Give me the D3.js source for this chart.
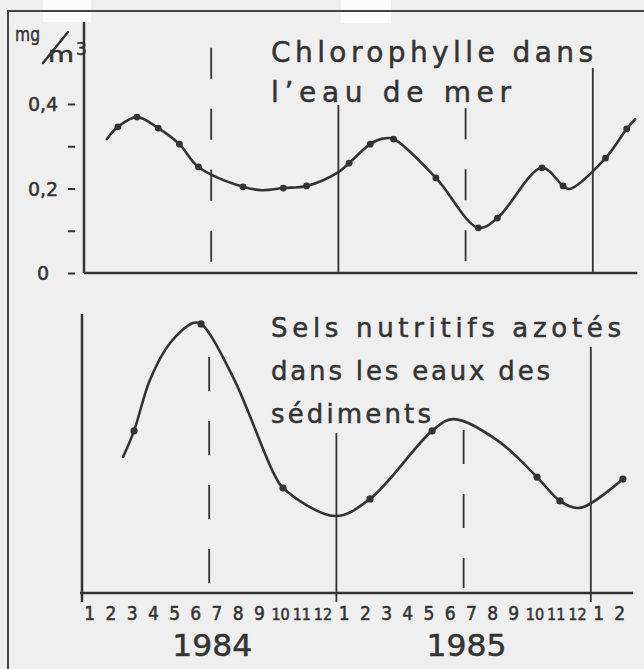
<!DOCTYPE html>
<html>
<head>
<meta charset="utf-8">
<script src="https://cdn.jsdelivr.net/npm/d3@7"></script>
<style>
  html, body { margin: 0; padding: 0; background: #efefef; }
  svg { display: block; }
  text { stroke: #333333; stroke-width: 0.5px; }
</style>
</head>
<body>
<div id="chart"></div>
<script>
"use strict";

// Months counted from January 1984 (0 = start of Jan 1984)
var monthLabels = ["1","2","3","4","5","6","7","8","9","10","11","12",
                   "1","2","3","4","5","6","7","8","9","10","11","12",
                   "1","2"];
var yearLabels = ["1984", "1985"];
var yearCentres = [6, 18];

// Chlorophylle (mg/m3): sampled points (dots)
var chloroDotMonths = [1.6, 2.5, 3.5, 4.5, 5.4, 7.5, 9.4, 10.5, 12.5, 13.5, 14.6, 16.6, 18.6, 19.5, 21.6, 22.6, 24.6, 25.6];
var chloroDotValues = [0.346, 0.369, 0.343, 0.305, 0.251, 0.204, 0.201, 0.206, 0.260, 0.305, 0.317, 0.225, 0.107, 0.130, 0.249, 0.206, 0.272, 0.341];
// extra points of the hand drawn curve (ends and turning points)
var chloroCurveMonths = [1.08, 8.4, 12.0, 14.1, 22.9, 26.0];
var chloroCurveValues = [0.317, 0.196, 0.239, 0.318, 0.199, 0.364];

// Sels nutritifs azotés (relative units, no scale on the original)
var nutriDotMonths = [2.36, 5.52, 9.39, 13.49, 16.42, 21.37, 22.45, 25.42];
var nutriDotValues = [5.79, 9.61, 3.75, 3.36, 5.79, 4.14, 3.29, 4.07];
var nutriCurveMonths = [1.84, 3.11, 4.06, 5.14, 7.03, 8.92, 11.84, 17.41, 19.48, 23.4];
var nutriCurveValues = [4.86, 7.61, 8.93, 9.64, 7.71, 4.32, 2.75, 6.21, 5.46, 3.04];

// y axis of the top panel
var chloroTicks = [0, 0.1, 0.2, 0.3, 0.4];
var chloroTickLabels = ["0", "", "0,2", "", "0,4"];

// vertical year / half-year lines
var guideMonths = [0, 6, 12, 18, 24];
var guideDashed = [false, true, false, true, false];
var guideTopChloro = [0.594, 0.533, 0.398, 0.39, 0.485];
var guideTopNutri = [9.96, 8.43, 5.71, 5.82, 8.79];

var width = 644, height = 669;
var ink = "#333333";
var font = "'DejaVu Sans', sans-serif";
var narrowFont = "'Liberation Sans Narrow', 'DejaVu Sans Condensed', 'DejaVu Sans', sans-serif";

var svg = d3.select("#chart").append("svg")
  .attr("width", width)
  .attr("height", height);

svg.append("rect")
  .attr("width", width).attr("height", height)
  .attr("fill", "#efefef");

// scan artefacts at the top edge
svg.append("rect").attr("x", 43).attr("y", 0).attr("width", 48).attr("height", 22).attr("fill", "#fbfbfb");
svg.append("rect").attr("x", 341).attr("y", 0).attr("width", 50).attr("height", 23).attr("fill", "#fbfbfb");

// outer frame
svg.append("path")
  .attr("d", "M8,669 L8,11 L644,11")
  .attr("fill", "none")
  .attr("stroke", "#444")
  .attr("stroke-width", 2);

// scales
var x = d3.scaleLinear().domain([0, 24]).range([84, 592.8]);
var yTop = d3.scaleLinear().domain([0, 0.4]).range([273, 104]);
var yBot = d3.scaleLinear().domain([0, 10]).range([593, 313]);

function zip(ms, vs) {
  return ms.map(function (m, i) { return {m: m, v: vs[i]}; });
}
var chloroDots = zip(chloroDotMonths, chloroDotValues);
var chloroLine = chloroDots.concat(zip(chloroCurveMonths, chloroCurveValues))
  .sort(function (a, b) { return a.m - b.m; });
var nutriDots = zip(nutriDotMonths, nutriDotValues);
var nutriLine = nutriDots.concat(zip(nutriCurveMonths, nutriCurveValues))
  .sort(function (a, b) { return a.m - b.m; });

// ---------- top panel : chlorophylle ----------
var topPanel = svg.append("g");

// vertical guides
guideMonths.forEach(function (m, i) {
  topPanel.append("line")
    .attr("x1", x(m)).attr("x2", x(m))
    .attr("y1", yTop(guideTopChloro[i])).attr("y2", yTop(0))
    .attr("stroke", ink)
    .attr("stroke-width", i === 0 ? 2.5 : 1.8)
    .attr("stroke-dasharray", guideDashed[i] ? "31,30" : null);
});

// x axis line
topPanel.append("line")
  .attr("x1", x(0)).attr("x2", x(26.1))
  .attr("y1", yTop(0)).attr("y2", yTop(0))
  .attr("stroke", ink).attr("stroke-width", 2.5);

// y ticks (detached from the axis, as drawn)
var yAxisTop = topPanel.append("g")
  .attr("transform", "translate(75,0)")
  .call(d3.axisLeft(yTop)
    .tickValues(chloroTicks)
    .tickSize(7)
    .tickFormat(function (d, i) { return chloroTickLabels[i]; }));
yAxisTop.select(".domain").remove();
yAxisTop.selectAll(".tick line").attr("stroke", ink).attr("stroke-width", 2);
yAxisTop.selectAll(".tick text")
  .attr("x", -32)
  .attr("dy", "0.36em")
  .attr("text-anchor", "middle")
  .attr("font-family", font)
  .attr("font-size", 19)
  .attr("fill", ink);

// unit label mg/m3
var unit = topPanel.append("g").attr("font-family", font).attr("fill", ink);
unit.append("text").attr("x", 15).attr("y", 41).attr("font-size", 20)
  .attr("textLength", 25).attr("lengthAdjust", "spacingAndGlyphs").text("mg");
unit.append("path")
  .attr("d", "M43,63 L68,32")
  .attr("stroke", ink).attr("stroke-width", 2.4).attr("stroke-linecap", "round");
unit.append("text").attr("x", 48).attr("y", 62).attr("font-size", 21)
  .attr("textLength", 26).attr("lengthAdjust", "spacingAndGlyphs").text("m");
unit.append("text").attr("x", 76).attr("y", 55).attr("font-size", 17).text("3");

// curve
topPanel.append("path")
  .datum(chloroLine)
  .attr("fill", "none")
  .attr("stroke", ink)
  .attr("stroke-width", 2.6)
  .attr("stroke-linecap", "round")
  .attr("d", d3.line()
    .x(function (d) { return x(d.m); })
    .y(function (d) { return yTop(d.v); })
    .curve(d3.curveCatmullRom.alpha(0.5)));

topPanel.selectAll("circle")
  .data(chloroDots)
  .enter()
  .append("circle")
    .attr("cx", function (d) { return x(d.m); })
    .attr("cy", function (d) { return yTop(d.v); })
    .attr("r", 3.4)
    .attr("fill", ink);

// title
var t1 = topPanel.append("g").attr("font-family", font).attr("fill", ink).attr("font-size", 28);
t1.append("text").attr("x", 271).attr("y", 62)
  .attr("textLength", 322).attr("lengthAdjust", "spacing")
  .text("Chlorophylle dans");
t1.append("text").attr("x", 271).attr("y", 102)
  .attr("textLength", 240).attr("lengthAdjust", "spacing")
  .text("l\u2019eau de mer");

// ---------- bottom panel : sels nutritifs ----------
var botPanel = svg.append("g");

guideMonths.forEach(function (m, i) {
  botPanel.append("line")
    .attr("x1", x(m) - 2).attr("x2", x(m) - 2)
    .attr("y1", yBot(guideTopNutri[i]))
    .attr("y2", guideDashed[i] ? yBot(0) - 5 : yBot(0) + 9)
    .attr("stroke", ink)
    .attr("stroke-width", i === 0 ? 2.5 : 1.8)
    .attr("stroke-dasharray", guideDashed[i] ? "34,30" : null);
});

botPanel.append("line")
  .attr("x1", x(0) - 4).attr("x2", x(25.9))
  .attr("y1", yBot(0)).attr("y2", yBot(0))
  .attr("stroke", ink).attr("stroke-width", 2.5);

botPanel.append("path")
  .datum(nutriLine)
  .attr("fill", "none")
  .attr("stroke", ink)
  .attr("stroke-width", 2.6)
  .attr("stroke-linecap", "round")
  .attr("d", d3.line()
    .x(function (d) { return x(d.m); })
    .y(function (d) { return yBot(d.v); })
    .curve(d3.curveCatmullRom.alpha(0.5)));

botPanel.selectAll("circle")
  .data(nutriDots)
  .enter()
  .append("circle")
    .attr("cx", function (d) { return x(d.m); })
    .attr("cy", function (d) { return yBot(d.v); })
    .attr("r", 3.6)
    .attr("fill", ink);

var t2 = botPanel.append("g").attr("font-family", font).attr("fill", ink).attr("font-size", 26);
t2.append("text").attr("x", 271).attr("y", 337)
  .attr("textLength", 350).attr("lengthAdjust", "spacing")
  .text("Sels nutritifs azotés");
t2.append("text").attr("x", 271).attr("y", 380)
  .attr("textLength", 279).attr("lengthAdjust", "spacing")
  .text("dans les eaux des");
t2.append("text").attr("x", 271).attr("y", 423)
  .attr("textLength", 160).attr("lengthAdjust", "spacing")
  .text("sédiments");

// month labels along the bottom axis
var xAxis = botPanel.append("g")
  .attr("transform", "translate(0," + yBot(0) + ")")
  .call(d3.axisBottom(x)
    .tickValues(monthLabels.map(function (d, i) { return i + 0.25; }))
    .tickSize(0)
    .tickFormat(function (d, i) { return monthLabels[i]; }));
xAxis.select(".domain").remove();
xAxis.selectAll(".tick text")
  .attr("y", 27)
  .attr("dy", 0)
  .attr("font-family", narrowFont)
  .attr("font-size", function (d, i) { return monthLabels[i].length > 1 ? 16 : 19; })
  .attr("fill", ink);

// year labels
botPanel.selectAll(".year")
  .data(yearLabels)
  .enter()
  .append("text")
    .attr("class", "year")
    .attr("x", function (d, i) { return x(yearCentres[i]) + 1; })
    .attr("y", 656)
    .attr("text-anchor", "middle")
    .attr("font-family", font)
    .attr("font-size", 31)
    .attr("textLength", 80)
    .attr("lengthAdjust", "spacingAndGlyphs")
    .attr("fill", ink)
    .text(function (d) { return d; });
</script>
</body>
</html>
